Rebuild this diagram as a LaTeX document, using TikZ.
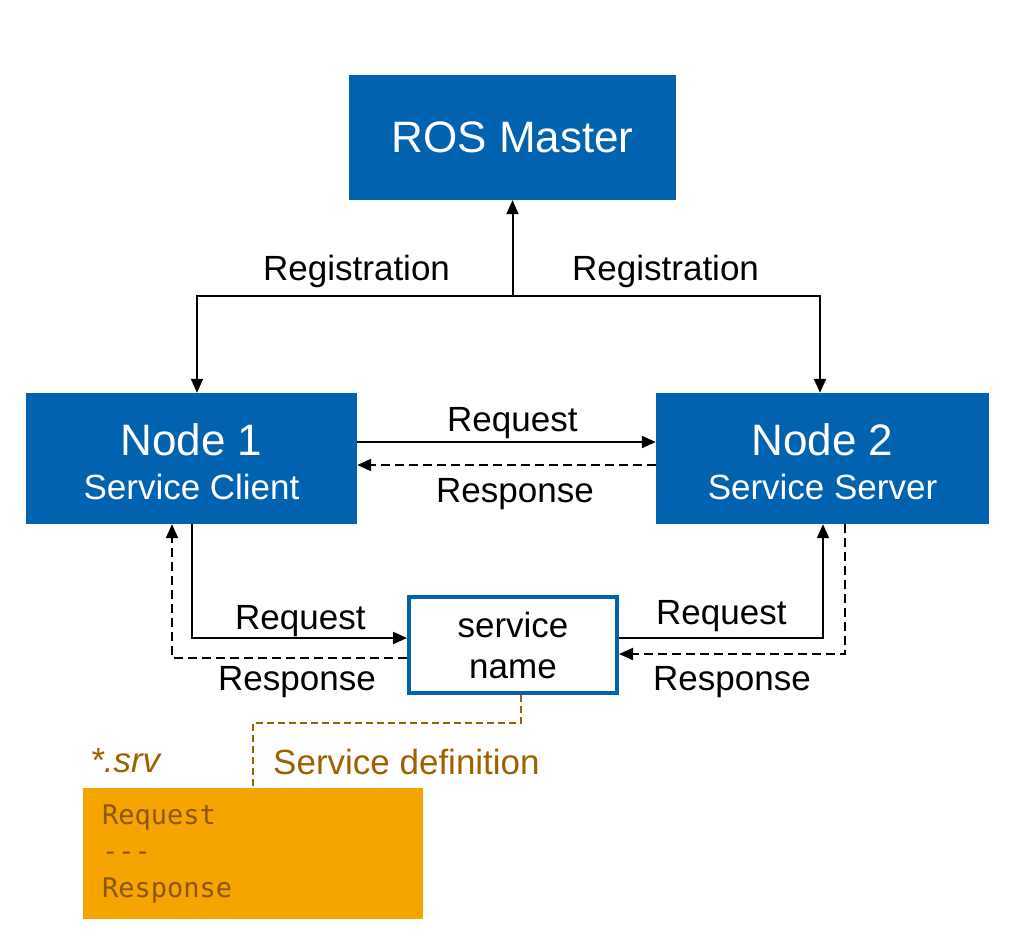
\documentclass[tikz,border=0pt]{standalone}
\usepackage{fontspec}
\setmainfont{Liberation Sans}
\newfontfamily\monof{DejaVu Sans Mono}
\usetikzlibrary{arrows.meta}
\definecolor{rosblue}{RGB}{1,99,176}
\definecolor{srvorange}{RGB}{245,164,0}
\definecolor{srvbrown}{RGB}{158,96,0}
\definecolor{monobrown}{RGB}{140,88,16}
\begin{document}
\begin{tikzpicture}[x=1pt,y=-1pt,
  bluebox/.style={fill=rosblue, text=white, draw=none, inner sep=0pt, align=center},
  lbl/.style={font=\fontsize{35}{40}\selectfont, inner sep=0pt, anchor=base west},
  conn/.style={line width=2pt, -{Triangle[length=14pt,width=12pt]}},
  dconn/.style={conn, dash pattern=on 9pt off 5pt},
]
\useasboundingbox (0,0) rectangle (1014,938);

% boxes
\node[bluebox, minimum width=327pt, minimum height=125pt,
      font=\fontsize{44}{50}\selectfont] (master) at (512.5,137.5) {ROS Master};
\node[bluebox, minimum width=331pt, minimum height=131pt,
      font=\fontsize{35}{44}\selectfont] (n1) at (191.5,458.5)
      {{\fontsize{44}{44}\selectfont\rule{0pt}{38pt}Node 1}\\Service Client};
\node[bluebox, minimum width=333pt, minimum height=131pt,
      font=\fontsize{35}{44}\selectfont] (n2) at (822.5,458.5)
      {{\fontsize{44}{44}\selectfont\rule{0pt}{38pt}Node 2}\\Service Server};
\node[draw=rosblue, line width=4pt, fill=white, minimum width=208pt, minimum height=96pt,
      inner sep=0pt, align=center, font=\fontsize{35}{41}\selectfont] (svc) at (513,645)
      {service\\name};
\node[fill=srvorange, minimum width=340pt, minimum height=131pt, inner sep=0pt,
      text width=302pt, align=left, text=monobrown,
      font=\monof\fontsize{27}{36.5}\selectfont] (srv) at (253,853.5)
      {Request\\---\\Response};

% registration
\coordinate (reg) at (512.5,296);
\draw[conn] (reg) -- (master.south);
\draw[conn] (reg) -| ([xshift=5.5pt]n1.north);
\draw[conn] (reg) -| ([xshift=-2.5pt]n2.north);
\node[lbl] (regl) at (263,280) {Registration};
\node[lbl] (regr) at (572,280) {Registration};

% direct request/response
\draw[conn] ([yshift=16.5pt]n1.east) -- ([yshift=16.5pt]n2.west);
\draw[dconn] ([yshift=-6.5pt]n2.west) -- ([yshift=-6.5pt]n1.east);
\node[lbl] (rq1) at (447,431) {Request};
\node[lbl] (rs1) at (436,502) {Response};

% via service
\draw[conn] ([xshift=0.5pt]n1.south) |- ([yshift=7pt]svc.west);
\draw[dconn] ([yshift=-13pt]svc.west) -| ([xshift=-19.5pt]n1.south);
\draw[conn] ([yshift=7pt]svc.east) -| ([xshift=0.5pt]n2.south);
\draw[dconn] ([xshift=22.5pt]n2.south) |- ([yshift=-9pt]svc.east);
\node[lbl] (rq2) at (235,629) {Request};
\node[lbl] (rs2) at (218,690) {Response};
\node[lbl] (rq3) at (656,624) {Request};
\node[lbl] (rs3) at (653,690) {Response};

% service definition
\draw[srvbrown, line width=2pt, dash pattern=on 7pt off 4pt]
  ([xshift=8pt]svc.south) -- ++(0,28) -| (srv.north);
\node[lbl, text=srvbrown] (srvext) at (90,772) {\itshape *.srv};
\node[lbl, text=srvbrown] (srvdef) at (273,774) {Service definition};
\end{tikzpicture}
\end{document}
